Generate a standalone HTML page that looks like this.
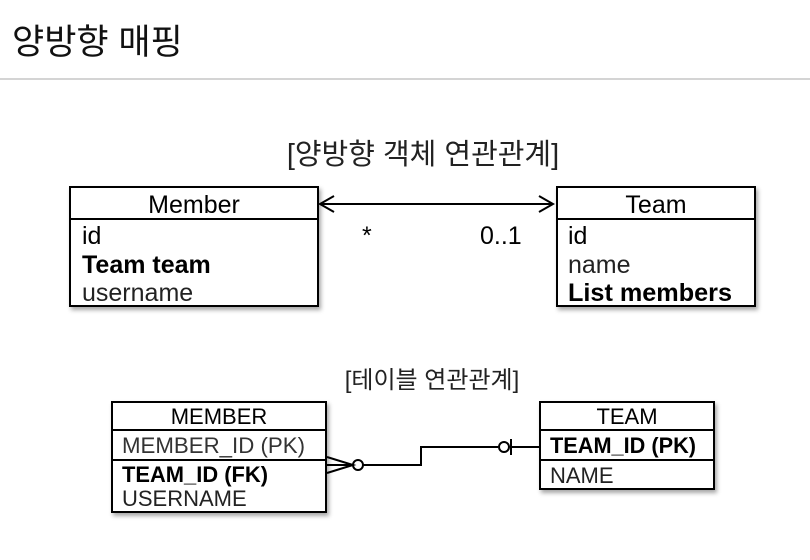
<!DOCTYPE html>
<html><head><meta charset="utf-8"><style>
body{margin:0;background:#fff;}
svg text{font-family:"Liberation Sans","Noto Sans CJK KR",sans-serif;}
</style></head><body>
<svg width="810" height="555" viewBox="0 0 810 555" xmlns="http://www.w3.org/2000/svg">
<defs><filter id="sh" x="-10%" y="-10%" width="130%" height="130%"><feDropShadow dx="2" dy="3" stdDeviation="2" flood-color="#000" flood-opacity="0.35"/></filter></defs>
<text x="12" y="54" font-size="35" fill="#111">양방향 매핑</text>
<line x1="0" y1="79" x2="810" y2="79" stroke="#aaa" stroke-width="1"/>
<text x="423" y="164" font-size="29" text-anchor="middle" fill="#222">[양방향 객체 연관관계]</text>

<g stroke="#000" stroke-width="2" fill="#fff">
<rect x="70" y="187" width="248" height="119" filter="url(#sh)"/>
<line x1="70" y1="219" x2="318" y2="219"/>
<rect x="557" y="187" width="198" height="119" filter="url(#sh)"/>
<line x1="557" y1="219" x2="755" y2="219"/>
</g>
<g font-size="25" fill="#000">
<text x="194" y="213" text-anchor="middle">Member</text>
<text x="82" y="244">id</text>
<text x="82" y="273" font-weight="bold">Team team</text>
<text x="82" y="301" fill="#222">username</text>
<text x="656" y="213" text-anchor="middle">Team</text>
<text x="568" y="244">id</text>
<text x="568" y="273" fill="#222">name</text>
<text x="568" y="301" font-weight="bold" textLength="164" lengthAdjust="spacingAndGlyphs">List members</text>
<text x="362" y="244">*</text>
<text x="480" y="244">0..1</text>
</g>
<g stroke="#000" stroke-width="2" fill="none">
<line x1="320" y1="204" x2="553" y2="204"/>
<polyline points="334,196 320,204 334,212"/>
<polyline points="539,196 553,204 539,212"/>
</g>

<text x="432" y="388" font-size="24" text-anchor="middle" fill="#222">[테이블 연관관계]</text>
<g stroke="#000" stroke-width="2" fill="#fff">
<rect x="112" y="402" width="214" height="110" filter="url(#sh)"/>
<line x1="112" y1="430" x2="326" y2="430"/>
<line x1="112" y1="460" x2="326" y2="460"/>
<rect x="540" y="402" width="174" height="87" filter="url(#sh)"/>
<line x1="540" y1="430" x2="714" y2="430"/>
<line x1="540" y1="460" x2="714" y2="460"/>
</g>
<g font-size="22" fill="#000">
<text x="219" y="424" text-anchor="middle">MEMBER</text>
<text x="122" y="453" fill="#333" textLength="183" lengthAdjust="spacingAndGlyphs">MEMBER_ID (PK)</text>
<text x="122" y="482" font-weight="bold" textLength="146" lengthAdjust="spacingAndGlyphs">TEAM_ID (FK)</text>
<text x="122" y="506" fill="#222">USERNAME</text>
<text x="627" y="424" text-anchor="middle">TEAM</text>
<text x="550" y="453" font-weight="bold" textLength="146" lengthAdjust="spacingAndGlyphs">TEAM_ID (PK)</text>
<text x="550" y="483" fill="#222">NAME</text>
</g>
<g stroke="#000" stroke-width="2" fill="none">
<polyline points="363,465 421,465 421,447 498,447"/>
<line x1="510" y1="447" x2="540" y2="447"/>
<line x1="511" y1="439" x2="511" y2="455"/>
<circle cx="504" cy="447" r="5" fill="#fff"/>
<circle cx="358" cy="465" r="5" fill="#fff"/>
<polyline points="327,457 353,465 327,473"/>
<line x1="327" y1="465" x2="353" y2="465"/>
</g>
</svg>
</body></html>
